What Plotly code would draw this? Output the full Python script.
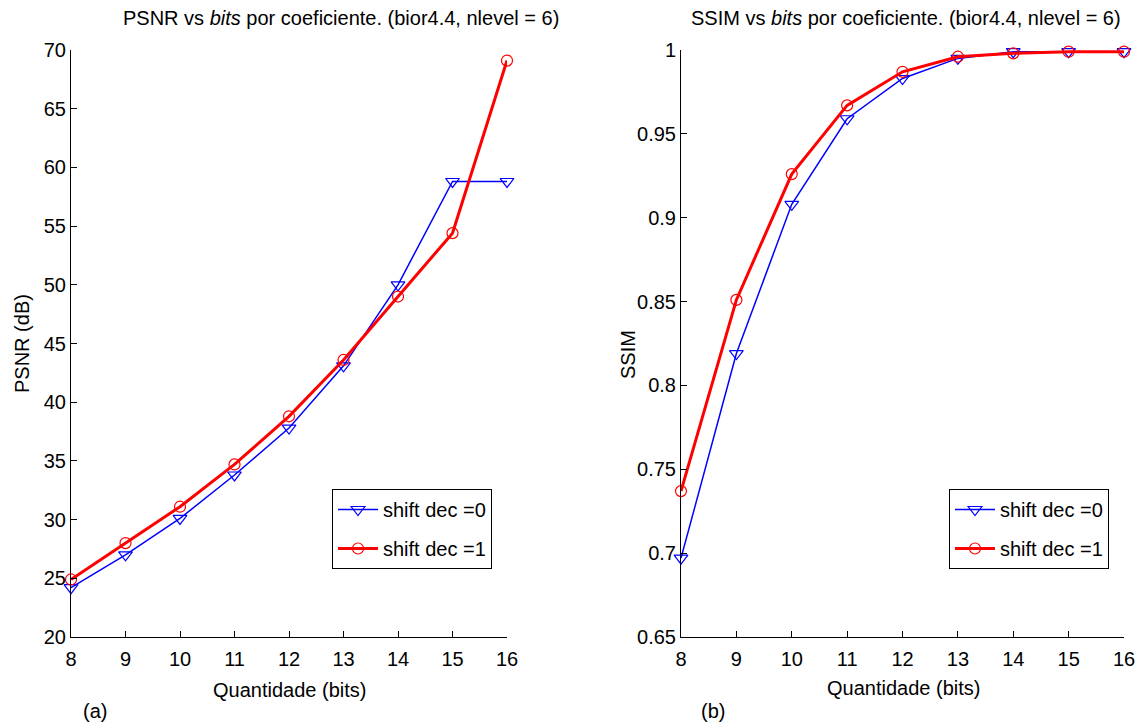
import plotly.graph_objects as go

# Quantization bits per coefficient
bits = [8, 9, 10, 11, 12, 13, 14, 15, 16]

# PSNR (dB) for each shift setting
psnr_shift0 = [24.2, 27.0, 30.1, 33.8, 37.8, 43.1, 50.0, 58.8, 58.8]
psnr_shift1 = [24.9, 28.0, 31.1, 34.7, 38.8, 43.6, 49.0, 54.4, 69.1]

# SSIM for each shift setting
ssim_shift0 = [0.697, 0.819, 0.908, 0.959, 0.983, 0.995, 0.999, 0.999, 0.999]
ssim_shift1 = [0.737, 0.851, 0.926, 0.967, 0.987, 0.996, 0.998, 0.999, 0.999]

series_names = ["shift dec =0", "shift dec =1"]

psnr_ticks = [20, 25, 30, 35, 40, 45, 50, 55, 60, 65, 70]
ssim_ticks = [0.65, 0.7, 0.75, 0.8, 0.85, 0.9, 0.95, 1.0]
ssim_ticktext = ["0.65", "0.7", "0.75", "0.8", "0.85", "0.9", "0.95", "1"]

W, H = 1143, 723
FONT = "Liberation Sans, Arial, sans-serif"
BLUE = "#0000FF"
RED = "#FF0000"


def px(x):
    return x / W


def py(y):
    return 1 - y / H


fig = go.Figure()

blue_style = dict(
    mode="lines+markers",
    line=dict(color=BLUE, width=1.5),
    marker=dict(symbol="triangle-down-open", size=12, color=BLUE, line=dict(width=1.2, color=BLUE)),
    cliponaxis=False,
)
red_style = dict(
    mode="lines+markers",
    line=dict(color=RED, width=3),
    marker=dict(symbol="circle-open", size=11, color=RED, line=dict(width=1.2, color=RED)),
    cliponaxis=False,
)

fig.add_trace(go.Scatter(x=bits, y=psnr_shift0, name=series_names[0], xaxis="x", yaxis="y",
                         legend="legend", legendgroup="a0", **blue_style))
fig.add_trace(go.Scatter(x=bits, y=psnr_shift1, name=series_names[1], xaxis="x", yaxis="y",
                         legend="legend", legendgroup="a1", **red_style))
fig.add_trace(go.Scatter(x=bits, y=ssim_shift0, name=series_names[0], xaxis="x2", yaxis="y2",
                         legend="legend2", legendgroup="b0", **blue_style))
fig.add_trace(go.Scatter(x=bits, y=ssim_shift1, name=series_names[1], xaxis="x2", yaxis="y2",
                         legend="legend2", legendgroup="b1", **red_style))

axis_common = dict(
    showline=True, linecolor="black", linewidth=1,
    ticks="inside", ticklen=6, tickcolor="black", tickwidth=1,
    showgrid=False, zeroline=False, mirror=False, automargin=False,
    tickfont=dict(family=FONT, size=20, color="black"),
)
x_common = dict(ticklabelstandoff=4, **axis_common)

ydom = [py(637), py(50)]

legend_common = dict(
    bgcolor="white", bordercolor="black", borderwidth=1,
    font=dict(family=FONT, size=20, color="black"),
    xanchor="left", yanchor="top", itemwidth=40,
    traceorder="grouped", tracegroupgap=10,
)

fig.update_layout(
    width=W, height=H,
    margin=dict(l=0, r=0, t=0, b=0, autoexpand=False),
    paper_bgcolor="white", plot_bgcolor="white",
    showlegend=True,
    xaxis=dict(domain=[px(71), px(507)], range=[8, 16], tickvals=bits, anchor="y", **x_common),
    yaxis=dict(domain=ydom, range=[20, 70], tickvals=psnr_ticks, anchor="x", **axis_common),
    xaxis2=dict(domain=[px(681), px(1124)], range=[8, 16], tickvals=bits, anchor="y2", **x_common),
    yaxis2=dict(domain=ydom, range=[0.65, 1.0], tickvals=ssim_ticks, ticktext=ssim_ticktext,
                anchor="x2", **axis_common),
    legend=dict(x=px(332), y=py(489), **legend_common),
    legend2=dict(x=px(949), y=py(489), **legend_common),
)

text_font = dict(family=FONT, size=20, color="black")
annotations = [
    dict(x=px(341), y=py(18), text="PSNR vs <i>bits</i> por coeficiente. (bior4.4, nlevel = 6)"),
    dict(x=px(906), y=py(18), text="SSIM vs <i>bits</i> por coeficiente. (bior4.4, nlevel = 6)"),
    dict(x=px(289), y=py(690), text="Quantidade (bits)"),
    dict(x=px(903), y=py(688), text="Quantidade (bits)"),
    dict(x=px(95), y=py(711), text="(a)"),
    dict(x=px(713), y=py(711), text="(b)"),
    dict(x=px(22), y=py(344), text="PSNR (dB)", textangle=-90),
    dict(x=px(628), y=py(355), text="SSIM", textangle=-90),
]
for a in annotations:
    fig.add_annotation(xref="paper", yref="paper", showarrow=False, xanchor="center", yanchor="middle",
                       font=text_font, **a)

fig.write_html("out.html")
